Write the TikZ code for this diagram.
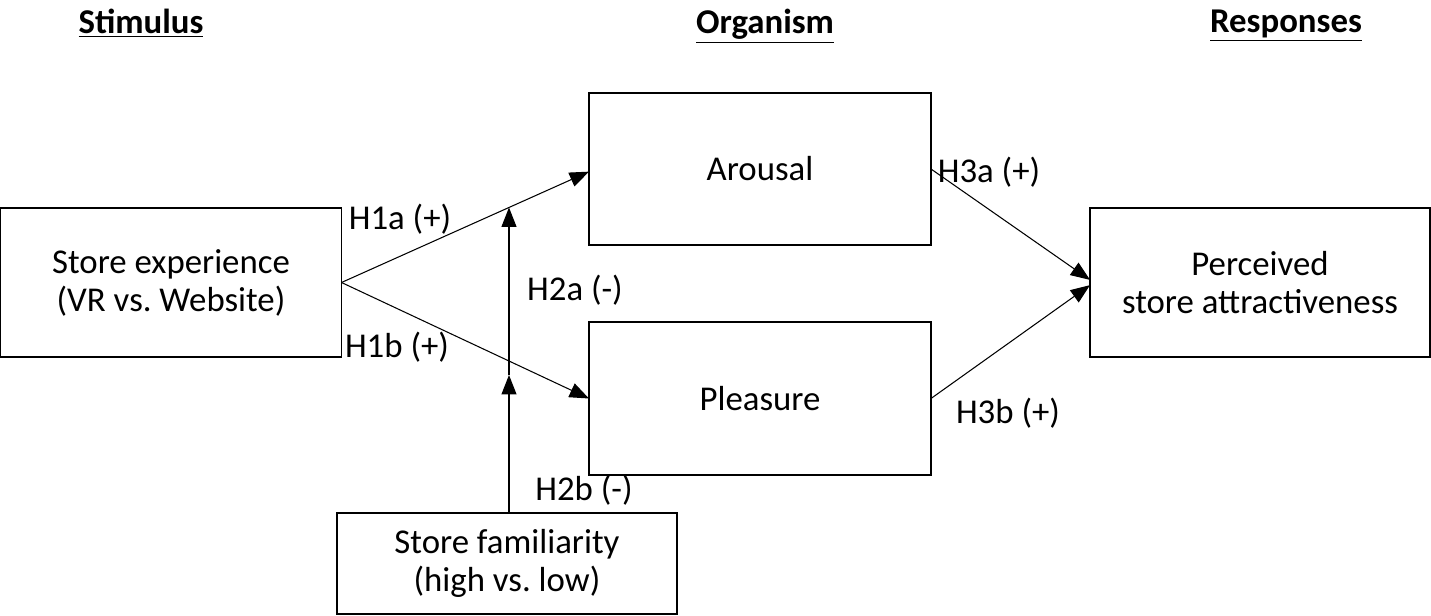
\documentclass[tikz,border=0pt]{standalone}
\usepackage{fontspec}
\setmainfont{Carlito}
\usetikzlibrary{arrows.meta}
\frenchspacing
\tikzset{
  box/.style={draw, line width=0.8pt, inner sep=0pt, outer sep=0pt, align=center},
  link/.style={-{Triangle[length=11pt,width=8.5pt]}, line width=0.6pt},
  hyp/.style={inner sep=0pt},
  head/.style={inner sep=0pt, font=\fontsize{19.8}{21.6}\selectfont\bfseries}
}
\begin{document}
\begin{tikzpicture}[font=\fontsize{19.8}{21.6}\selectfont]
    \useasboundingbox (0,0) rectangle (28.62,-12.32);
    % headings
    \node [head] (stim) at (2.82,-0.46) {\underline{Stimulus}};
    \node [head] (org) at (15.3,-0.52) {\underline{Organism}};
    \node [head] (resp) at (25.72,-0.52) {\underline{Responses}};
    % boxes
    \node [box, minimum width=6.82cm, minimum height=2.98cm] (exp) at (3.42,-5.65) {Store experience\\(VR vs. Website)};
    \node [box, minimum width=6.84cm, minimum height=3.04cm] (arousal) at (15.2,-3.38) {Arousal};
    \node [box, minimum width=6.84cm, minimum height=3.06cm] (pleasure) at (15.2,-7.97) {Pleasure};
    \node [box, minimum width=6.8cm, minimum height=2.98cm] (attr) at (25.2,-5.65) {Perceived\\store attractiveness};
    \node [box, minimum width=6.8cm, minimum height=2.02cm] (fam) at (10.14,-11.27) {Store familiarity\\(high vs. low)};
    % arrows
    \draw [link] (exp.east) -- ([yshift=-1.5pt]arousal.west);
    \draw [link] (exp.east) -- (pleasure.west);
    \draw [link] (arousal.east) -- ([yshift=1.5pt]attr.west);
    \draw [link] (pleasure.east) -- ([yshift=-1.5pt]attr.west);
    \coordinate (m1) at (10.18,-4.15);
    \coordinate (m2) at (10.18,-7.5);
    \draw [link] (fam.north -| m1) -- (m2);
    \draw [link] (m2) -- (m1);
    % hypotheses
    \node [hyp] (h1a) at (8.0,-4.38) {H1a (+)};
    \node [hyp] (h1b) at (7.94,-6.94) {H1b (+)};
    \node [hyp] (h2a) at (11.5,-5.8) {H2a (-)};
    \node [hyp] (h2b) at (11.68,-9.8) {H2b (-)};
    \node [hyp] (h3a) at (19.78,-3.44) {H3a (+)};
    \node [hyp] (h3b) at (20.16,-8.26) {H3b (+)};
\end{tikzpicture}
\end{document}
